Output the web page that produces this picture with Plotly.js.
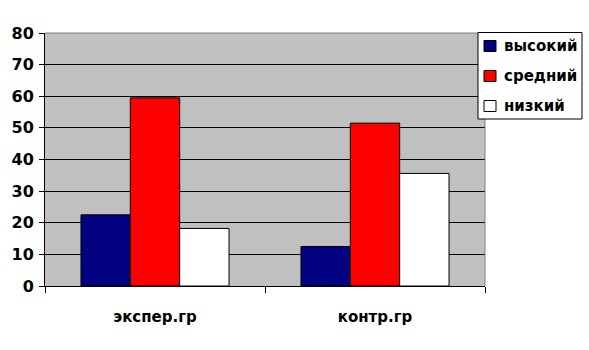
<!DOCTYPE html>
<html><head><meta charset="utf-8">
<script src="https://cdn.plot.ly/plotly-3.0.1.min.js"></script>
<style>html,body{margin:0;padding:0;background:#fff}</style>
</head><body><div id="chart" style="width:589px;height:350px"></div>
<script>
const categories = ['экспер.гр', 'контр.гр'];
const seriesNames = ['высокий', 'средний', 'низкий'];
const highVals = [22.5, 12.5];
const midVals = [59.5, 51.5];
const lowVals = [18.2, 35.6];
const yTicks = [0, 10, 20, 30, 40, 50, 60, 70, 80];
const colors = ['#000080', '#FF0000', '#FFFFFF'];

const W = 589, H = 350, L = 45, R = 104, T = 33, B = 64;
const pw = W - L - R, ph = H - T - B;
const px = x => (x - L) / pw;          // pixel -> paper x
const py = y => (H - B - y) / ph;      // pixel -> paper y

const font = {family: 'DejaVu Sans, Arial, sans-serif', size: 15, color: '#000', weight: 'bold'};
const vals = [highVals, midVals, lowVals];
const data = vals.map((v, i) => ({
  type: 'bar', x: categories, y: v, name: seriesNames[i],
  marker: {color: colors[i], line: {color: '#000', width: 1}}
}));

// plot-area border (grey top & right) then manual legend
const shapes = [
  {type: 'line', xref: 'paper', yref: 'paper', x0: 0, x1: 1, y0: 1, y1: 1,
    line: {color: '#808080', width: 1}, layer: 'above'},
  {type: 'line', xref: 'paper', yref: 'paper', x0: 1, x1: 1, y0: 0, y1: 1,
    line: {color: '#808080', width: 1}, layer: 'above'},
  {type: 'rect', xref: 'paper', yref: 'paper',
    x0: px(478), x1: px(582), y0: py(119), y1: py(32.5),
    fillcolor: '#fff', line: {color: '#000', width: 1}, layer: 'above'}];
const annotations = [];
seriesNames.forEach((n, i) => {
  const cy = 46 + i * 30;
  shapes.push({type: 'rect', xref: 'paper', yref: 'paper',
    x0: px(484), x1: px(496), y0: py(cy + 5.5), y1: py(cy - 5.5),
    fillcolor: colors[i], line: {color: '#000', width: 1}, layer: 'above'});
  annotations.push({xref: 'paper', yref: 'paper', x: px(502), y: py(cy),
    xanchor: 'left', yanchor: 'middle', text: n, showarrow: false,
    font: {family: font.family, size: 15, color: '#000', weight: 'bold'}});
});

const layout = {
  width: W, height: H,
  margin: {l: L, r: R, t: T, b: B},
  paper_bgcolor: '#fff', plot_bgcolor: '#C0C0C0',
  barmode: 'group', bargap: 0.327, bargroupgap: 0,
  font: font, showlegend: false,
  shapes: shapes, annotations: annotations,
  xaxis: {showgrid: false, ticks: 'outside', ticklen: 6, tickcolor: '#000',
    tickson: 'boundaries', showline: true, linecolor: '#000', linewidth: 1,
    ticklabelstandoff: 17, tickfont: font, zeroline: false},
  yaxis: {range: [0, 80], tickvals: yTicks, ticks: 'outside', ticklen: 5, tickcolor: '#000',
    showgrid: true, gridcolor: '#000', gridwidth: 1, showline: true, linecolor: '#000',
    zeroline: false, tickfont: {family: font.family, size: 16, color: '#000', weight: 'bold'},
    ticklabelstandoff: 2}
};
Plotly.newPlot('chart', data, layout, {displayModeBar: false, staticPlot: true});
</script></body></html>
